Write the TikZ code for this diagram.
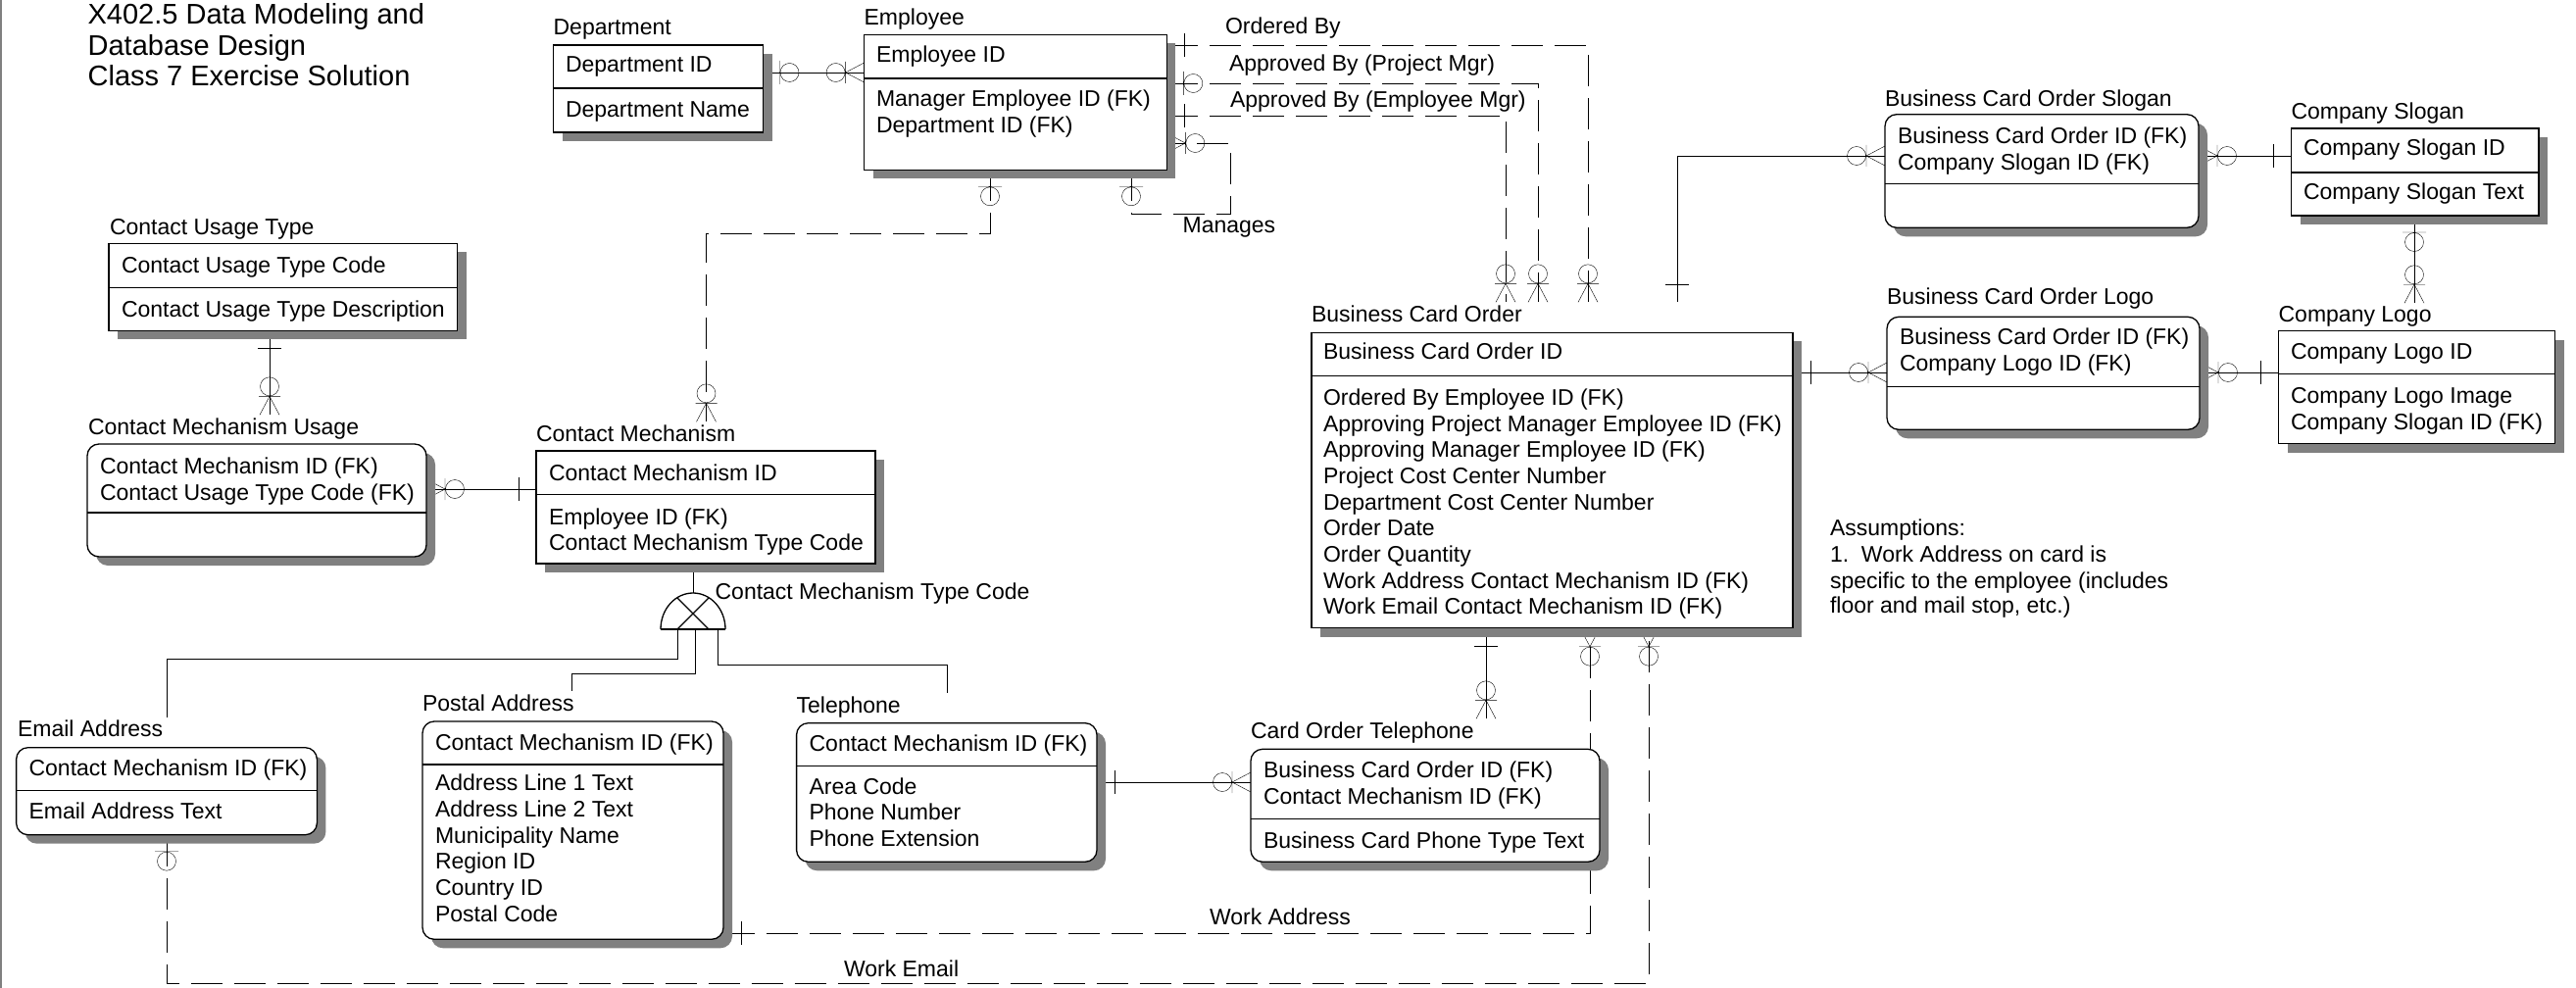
\documentclass[tikz,border=0pt]{standalone}
\usepackage{fontspec}
\setmainfont{Liberation Sans}
\usetikzlibrary{shadows,backgrounds}

\definecolor{shadowc}{RGB}{128,128,128}
\newcommand{\erfont}{\fontsize{23}{26.7}\selectfont}
\newcommand{\ertitlefont}{\fontsize{29}{31.7}\selectfont}

\tikzset{every picture/.style={line width=1.3pt}}
\tikzset{
	ent/.style={draw, fill=white, anchor=north west, inner sep=0pt, outer sep=0pt,
		drop shadow={shadow xshift=9pt, shadow yshift=-9pt, opacity=1, fill=shadowc}},
	rent/.style={ent, rounded corners=12pt},
	txt/.style={anchor=base west, inner sep=0pt, outer sep=0pt, font=\erfont},
	ename/.style={txt, outer ysep=3pt},
	ttl/.style={anchor=base west, inner sep=0pt, font=\ertitlefont},
	rel/.style={dash pattern=on 32pt off 12pt},
	one/.pic={\draw[solid] (18,-12) -- (18,12);},
	zone/.pic={\draw[solid] (17,-12) -- (17,12) (27,0) circle (9.5);},
	zmany/.pic={\draw[solid] (0,-10) -- (19,0) -- (0,10) (19,-11) -- (19,11) (29,0) circle (9.5);}
}

\begin{document}
\begin{tikzpicture}[x=1pt,y=1pt,yscale=-1,xscale=1]
	\useasboundingbox (0,0) rectangle (2628,1008);
	%Straight Lines: left margin rule
	\draw [shadowc, line width=2pt] (1,0) -- (1,1008);

	% Text Node: title
	\node[ttl] (title1) at (89,25) {X402.5 Data Modeling and};
	\node[ttl] (title2) at (89,57) {Database Design};
	\node[ttl] (title3) at (89,88) {Class 7 Exercise Solution};

	%Entity: Department
	\node[ent, minimum width=213.9pt, minimum height=89pt] (dept) at (564.6,46) {};
	\draw (dept.west |- 0,90) -- (dept.east |- 0,90);
	\node[ename] (deptName) at (564.6,36) {Department};
	\node[txt] (deptK) at (577,74) {Department ID};
	\node[txt] (deptA1) at (577,120) {Department Name};

	%Entity: Employee
	\node[ent, minimum width=308.7pt, minimum height=138pt] (emp) at (881.6,35.3) {};
	\draw (emp.west |- 0,80) -- (emp.east |- 0,80);
	\node[ename] (empName) at (881.6,26) {Employee};
	\node[txt] (empK) at (894,64) {Employee ID};
	\node[txt] (empA1) at (894,109) {Manager Employee ID (FK)};
	\node[txt] (empA2) at (894,136) {Department ID (FK)};

	%Entity: Contact Usage Type
	\node[ent, minimum width=355.5pt, minimum height=89pt] (cut) at (111,248.3) {};
	\draw (cut.west |- 0,293.3) -- (cut.east |- 0,293.3);
	\node[ename] (cutName) at (112,240) {Contact Usage Type};
	\node[txt] (cutK) at (124,278.3) {Contact Usage Type Code};
	\node[txt] (cutA1) at (124,323.3) {Contact Usage Type Description};

	%Entity: Contact Mechanism Usage
	\node[rent, minimum width=346pt, minimum height=115pt] (cmu) at (89,453) {};
	\draw (cmu.west |- 0,523) -- (cmu.east |- 0,523);
	\node[ename] (cmuName) at (90,443) {Contact Mechanism Usage};
	\node[txt] (cmuK1) at (102,483) {Contact Mechanism ID (FK)};
	\node[txt] (cmuK2) at (102,510) {Contact Usage Type Code (FK)};

	%Entity: Contact Mechanism
	\node[ent, minimum width=346pt, minimum height=115pt] (cm) at (547,460) {};
	\draw (cm.west |- 0,504.3) -- (cm.east |- 0,504.3);
	\node[ename] (cmName) at (547,450) {Contact Mechanism};
	\node[txt] (cmK) at (560,490) {Contact Mechanism ID};
	\node[txt] (cmA1) at (560,535) {Employee ID (FK)};
	\node[txt] (cmA2) at (560,561) {Contact Mechanism Type Code};

	%Entity: Email Address
	\node[rent, minimum width=306.8pt, minimum height=89pt] (email) at (16.6,762.7) {};
	\draw (email.west |- 0,806.7) -- (email.east |- 0,806.7);
	\node[ename] (emailName) at (18,751.7) {Email Address};
	\node[txt] (emailK) at (29.6,791.7) {Contact Mechanism ID (FK)};
	\node[txt] (emailA1) at (29.6,835) {Email Address Text};

	%Entity: Postal Address
	\node[rent, minimum width=307pt, minimum height=222.3pt] (postal) at (431,736) {};
	\draw (postal.west |- 0,780) -- (postal.east |- 0,780);
	\node[ename] (postalName) at (431,725) {Postal Address};
	\node[txt] (postalK) at (444,765) {Contact Mechanism ID (FK)};
	\node[txt] (postalA1) at (444,806.7) {Address Line 1 Text};
	\node[txt] (postalA2) at (444,833.3) {Address Line 2 Text};
	\node[txt] (postalA3) at (444,860) {Municipality Name};
	\node[txt] (postalA4) at (444,886.7) {Region ID};
	\node[txt] (postalA5) at (444,913.3) {Country ID};
	\node[txt] (postalA6) at (444,940) {Postal Code};

	%Entity: Telephone
	\node[rent, minimum width=306.4pt, minimum height=141.6pt] (tel) at (812.6,737.7) {};
	\draw (tel.west |- 0,781.7) -- (tel.east |- 0,781.7);
	\node[ename] (telName) at (812.6,727) {Telephone};
	\node[txt] (telK) at (825.6,766.7) {Contact Mechanism ID (FK)};
	\node[txt] (telA1) at (825.6,810) {Area Code};
	\node[txt] (telA2) at (825.6,836.7) {Phone Number};
	\node[txt] (telA3) at (825.6,863.3) {Phone Extension};

	%Entity: Card Order Telephone
	\node[rent, minimum width=356pt, minimum height=115pt] (cot) at (1276,764.3) {};
	\draw (cot.west |- 0,835.7) -- (cot.east |- 0,835.7);
	\node[ename] (cotName) at (1276,753) {Card Order Telephone};
	\node[txt] (cotK1) at (1289,793.3) {Business Card Order ID (FK)};
	\node[txt] (cotK2) at (1289,820) {Contact Mechanism ID (FK)};
	\node[txt] (cotA1) at (1289,865) {Business Card Phone Type Text};

	%Entity: Business Card Order
	\node[ent, minimum width=491pt, minimum height=301.4pt] (bco) at (1338,339.3) {};
	\draw (bco.west |- 0,383.3) -- (bco.east |- 0,383.3);
	\node[ename] (bcoName) at (1338,328) {Business Card Order};
	\node[txt] (bcoK) at (1350,366.7) {Business Card Order ID};
	\node[txt] (bcoA1) at (1350,413.3) {Ordered By Employee ID (FK)};
	\node[txt] (bcoA2) at (1350,440) {Approving Project Manager Employee ID (FK)};
	\node[txt] (bcoA3) at (1350,466.7) {Approving Manager Employee ID (FK)};
	\node[txt] (bcoA4) at (1350,493.3) {Project Cost Center Number};
	\node[txt] (bcoA5) at (1350,520) {Department Cost Center Number};
	\node[txt] (bcoA6) at (1350,546.7) {Order Date};
	\node[txt] (bcoA7) at (1350,573.3) {Order Quantity};
	\node[txt] (bcoA8) at (1350,600) {Work Address Contact Mechanism ID (FK)};
	\node[txt] (bcoA9) at (1350,626.7) {Work Email Contact Mechanism ID (FK)};

	%Entity: Business Card Order Slogan
	\node[rent, minimum width=320pt, minimum height=115.6pt] (bcos) at (1923,116.7) {};
	\draw (bcos.west |- 0,187.7) -- (bcos.east |- 0,187.7);
	\node[ename] (bcosName) at (1923,108.3) {Business Card Order Slogan};
	\node[txt] (bcosK1) at (1936,146.7) {Business Card Order ID (FK)};
	\node[txt] (bcosK2) at (1936,173.3) {Company Slogan ID (FK)};

	%Entity: Business Card Order Logo
	\node[rent, minimum width=319pt, minimum height=115pt] (bcol) at (1925,323.3) {};
	\draw (bcol.west |- 0,394.3) -- (bcol.east |- 0,394.3);
	\node[ename] (bcolName) at (1925,310) {Business Card Order Logo};
	\node[txt] (bcolK1) at (1938,351.7) {Business Card Order ID (FK)};
	\node[txt] (bcolK2) at (1938,378.3) {Company Logo ID (FK)};

	%Entity: Company Slogan
	\node[ent, minimum width=252.5pt, minimum height=89pt] (cs) at (2337.5,131) {};
	\draw (cs.west |- 0,176) -- (cs.east |- 0,176);
	\node[ename] (csName) at (2337.5,121.7) {Company Slogan};
	\node[txt] (csK) at (2350,158.3) {Company Slogan ID};
	\node[txt] (csA1) at (2350,203.3) {Company Slogan Text};

	%Entity: Company Logo
	\node[ent, minimum width=281.9pt, minimum height=115pt] (cl) at (2324.6,337.7) {};
	\draw (cl.west |- 0,381.7) -- (cl.east |- 0,381.7);
	\node[ename] (clName) at (2324.6,328.3) {Company Logo};
	\node[txt] (clK) at (2337,366.7) {Company Logo ID};
	\node[txt] (clA1) at (2337,411.7) {Company Logo Image};
	\node[txt] (clA2) at (2337,438.3) {Company Slogan ID (FK)};

	%Shape: subtype symbol
	\coordinate (catTop) at (707,605);
	\coordinate (catL) at (691,642);
	\coordinate (catM) at (709,642);
	\coordinate (catR) at (731.7,642);
	\draw (674,642) arc[start angle=180, end angle=360, x radius=33, y radius=37];
	\draw (691,642) -- (723,610) (723,642) -- (691,610);
	\draw [line width=2.6pt] (674,642) -- (740,642);

	% Text Node: relationship labels
	\node[txt] (lblOrdered) at (1250,35) {Ordered By};
	\node[txt] (lblApprPM) at (1254,73) {Approved By (Project Mgr)};
	\node[txt] (lblApprEM) at (1255,110) {Approved By (Employee Mgr)};
	\node[txt] (lblManages) at (1206.6,238) {Manages};
	\node[txt] (lblCat) at (729.6,611.7) {Contact Mechanism Type Code};
	\node[txt] (lblWorkAddr) at (1234,943) {Work Address};
	\node[txt] (lblWorkEmail) at (861,996.7) {Work Email};

	% Text Node: assumptions
	\node[txt] (note1) at (1867,546.7) {Assumptions:};
	\node[txt] (note2) at (1867,573.3) {1.\ \ Work Address on card is};
	\node[txt] (note3) at (1867,600) {specific to the employee (includes};
	\node[txt] (note4) at (1867,625) {floor and mail stop, etc.)};

	\begin{pgfonlayer}{background}
	%Connector: Department - Employee
	\draw (dept.east |- 0,74) pic{zone} -- (emp.west |- 0,74) pic[rotate=180]{zmany};
	%Connector: Ordered By
	\draw [rel] (emp.east |- 0,46) pic{one} -- (1620,46) -- (1620,0 |- bcoName.north) pic[rotate=90]{zmany};
	%Connector: Approved By (Project Mgr)
	\draw [rel] (emp.east |- 0,85) pic{zone} -- (1569,85) -- (1569,0 |- bcoName.north) pic[rotate=90]{zmany};
	%Connector: Approved By (Employee Mgr)
	\draw [rel] (emp.east |- 0,118) pic{one} -- (1536,118) -- (1536,0 |- bcoName.north) pic[rotate=90]{zmany};
	%Connector: Manages
	\draw [rel] (1154,0 |- emp.south) pic[rotate=270]{zone} -- (1154,218) -- (1255,218) -- (1255,146) -- (emp.east |- 0,146) pic{zmany};
	%Connector: Employee - Contact Mechanism
	\draw [rel] (1010,0 |- emp.south) pic[rotate=270]{zone} -- (1010,238) -- (720.5,238) -- (720.5,0 |- cmName.north) pic[rotate=90]{zmany};
	%Connector: Contact Usage Type - Contact Mechanism Usage
	\draw (275,0 |- cut.south) pic[rotate=270]{one} -- (275,0 |- cmuName.north) pic[rotate=90]{zmany};
	%Connector: Contact Mechanism - Contact Mechanism Usage
	\draw (cm.west |- 0,499) pic[rotate=180]{one} -- (cmu.east |- 0,499) pic{zmany};
	%Connector: subtypes
	\draw (707,0 |- cm.south) -- (catTop);
	\draw (catL) -- (691,672) -- (170,672) -- (170,0 |- emailName.north);
	\draw (catM) -- (709,687) -- (583,687) -- (583,0 |- postalName.north);
	\draw (catR) -- (731.7,678) -- (966,678) -- (966,0 |- telName.north);
	%Connector: Work Address
	\draw [rel] (postal.east |- 0,952) pic{one} -- (1622,952) -- (1622,0 |- bco.south) pic[rotate=270]{zmany};
	%Connector: Work Email
	\draw [rel] (170,0 |- email.south) pic[rotate=270]{zone} -- (170,1003) -- (1682,1003) -- (1682,0 |- bco.south) pic[rotate=270]{zmany};
	%Connector: Telephone - Card Order Telephone
	\draw (tel.east |- 0,798) pic{one} -- (cot.west |- 0,798) pic[rotate=180]{zmany};
	%Connector: Business Card Order - Card Order Telephone
	\draw (1516,0 |- bco.south) pic[rotate=270]{one} -- (1516,0 |- cotName.north) pic[rotate=90]{zmany};
	%Connector: Business Card Order - Slogan
	\draw (1711,0 |- bcoName.north) pic[rotate=90]{one} -- (1711,159) -- (bcos.west |- 0,159) pic[rotate=180]{zmany};
	%Connector: Slogan - Company Slogan
	\draw (bcos.east |- 0,159) pic{zmany} -- (cs.west |- 0,159) pic[rotate=180]{one};
	%Connector: Business Card Order - Logo
	\draw (bco.east |- 0,380) pic{one} -- (bcol.west |- 0,380) pic[rotate=180]{zmany};
	%Connector: Logo - Company Logo
	\draw (bcol.east |- 0,380) pic{zmany} -- (cl.west |- 0,380) pic[rotate=180]{one};
	%Connector: Company Slogan - Company Logo
	\draw (2463,0 |- cs.south) pic[rotate=270]{zone} -- (2463,0 |- clName.north) pic[rotate=90]{zmany};
	\end{pgfonlayer}

\end{tikzpicture}
\end{document}
